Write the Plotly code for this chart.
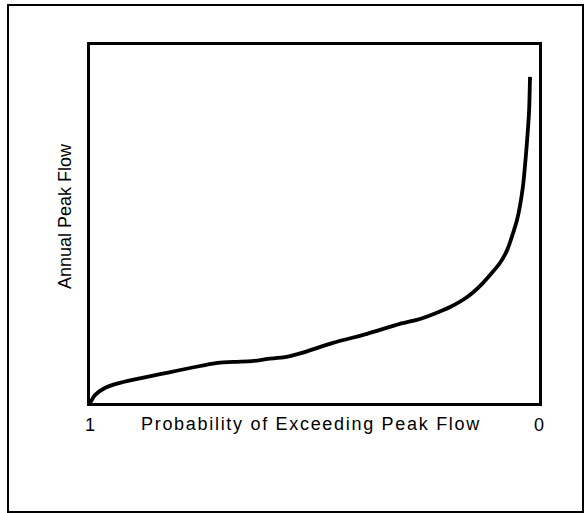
import plotly.graph_objects as go

# Probability of exceedance (x, reversed axis: 1 at left, 0 at right)
probability = [1.000, 0.989, 0.967, 0.938, 0.900, 0.862, 0.826, 0.788, 0.744, 0.715,
               0.677, 0.639, 0.604, 0.566, 0.528, 0.459, 0.383, 0.310, 0.272, 0.236,
               0.198, 0.160, 0.125, 0.087, 0.071, 0.049, 0.036, 0.027, 0.022, 0.020]
# Annual peak flow (relative units, 0-100)
peak_flow = [0.0, 2.2, 4.2, 5.5, 6.6, 7.6, 8.5, 9.5, 10.6, 11.2,
             11.5, 11.7, 12.3, 12.8, 14.0, 16.8, 19.3, 22.1, 23.2, 24.8,
             26.8, 29.6, 33.5, 39.1, 42.7, 51.1, 60.3, 72.6, 81.8, 91.1]

tick_values = [1, 0]
tick_labels = ["1", "0"]
x_title = "Probability of Exceeding Peak Flow"
y_title = "Annual Peak Flow"

FONT = "Liberation Sans, Arial, Helvetica, sans-serif"

fig = go.Figure()
fig.add_trace(go.Scatter(
    x=probability, y=peak_flow, mode="lines",
    line=dict(color="black", width=3.8, shape="spline", smoothing=0.6),
    hoverinfo="skip", showlegend=False,
))

fig.update_layout(
    width=585, height=513,
    margin=dict(l=90, r=46, t=45, b=110),
    paper_bgcolor="white", plot_bgcolor="white",
    font=dict(family=FONT, size=18, color="black"),
    xaxis=dict(range=[1, 0], tickvals=tick_values, ticktext=tick_labels,
               showgrid=False, zeroline=False, showline=True, mirror=True,
               linecolor="black", linewidth=3, ticks="", ticklen=0,
               ticklabelstandoff=3,
               tickfont=dict(size=18, family=FONT)),
    yaxis=dict(range=[0, 100], showticklabels=False, showgrid=False,
               zeroline=False, showline=True, mirror=True,
               linecolor="black", linewidth=3, ticks=""),
    shapes=[dict(type="rect", xref="paper", yref="paper",
                 x0=-0.1826, x1=1.098, y0=-0.3045, y1=1.1117,
                 line=dict(color="black", width=2), layer="below")],
    annotations=[
        dict(text='<span style="letter-spacing:1.7px">' + x_title + '</span>',
             xref="paper", yref="paper", x=0.492, y=-0.0587,
             showarrow=False, font=dict(size=18, family=FONT),
             xanchor="center", yanchor="middle"),
        dict(text=y_title, xref="paper", yref="paper", x=-0.0557, y=0.522,
             showarrow=False, textangle=-90, font=dict(size=18, family=FONT),
             xanchor="center", yanchor="middle"),
    ],
)

fig.write_html("out.html", config={"displayModeBar": False},
               post_script="document.body.style.margin='0px';")
